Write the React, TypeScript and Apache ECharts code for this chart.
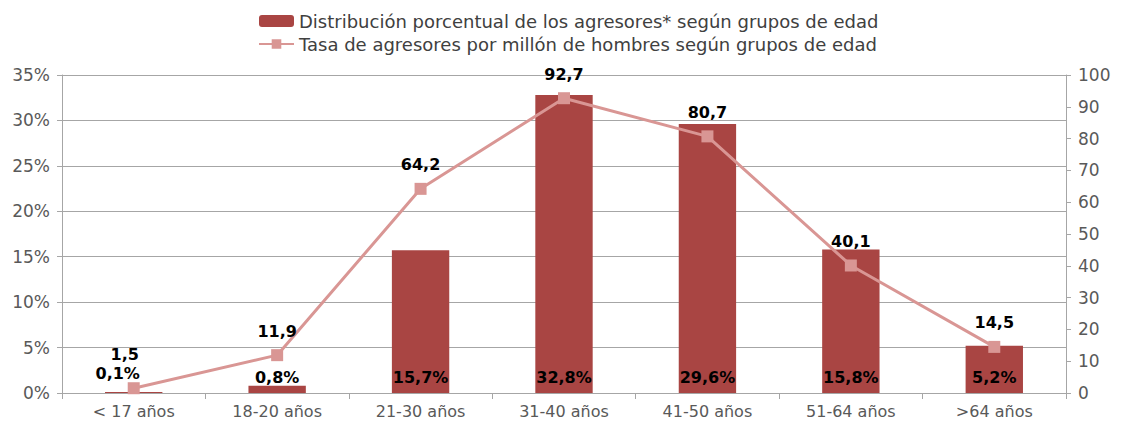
import React, { useEffect, useRef } from "react";
import * as echarts from "echarts";

const categories = ["< 17 años", "18-20 años", "21-30 años", "31-40 años", "41-50 años", "51-64 años", ">64 años"];
const distribucion = [0.1, 0.8, 15.7, 32.8, 29.6, 15.8, 5.2];
const tasa = [1.5, 11.9, 64.2, 92.7, 80.7, 40.1, 14.5];
const leftTicks = { min: 0, max: 35, interval: 5 };
const rightTicks = { min: 0, max: 100, interval: 10 };

const FONT = "DejaVu Sans";
const fmt = (v: number) => v.toFixed(1).replace(".", ",");

export default function App() {
  const ref = useRef<HTMLDivElement>(null);
  useEffect(() => {
    const chart = echarts.init(ref.current!, null, { renderer: "svg" });
    chart.setOption({
      animation: false,
      textStyle: { fontFamily: FONT },
      legend: {
        orient: "vertical",
        left: 253,
        top: 7,
        itemWidth: 35,
        itemHeight: 12,
        itemGap: 5,
        textStyle: { fontFamily: FONT, fontSize: 18, color: "#404040" },
        data: [
          "Distribución porcentual de los agresores* según grupos de edad",
          "Tasa de agresores por millón de hombres según grupos de edad",
        ],
      },
      grid: { left: 62, right: 55, top: 75, bottom: 34 },
      xAxis: {
        type: "category",
        data: categories,
        axisLine: { lineStyle: { color: "#a6a6a6" } },
        axisTick: { show: true, length: 6, lineStyle: { color: "#a6a6a6" } },
        axisLabel: { fontFamily: FONT, fontSize: 16, color: "#595959", margin: 10 },
      },
      yAxis: [
        {
          type: "value",
          ...leftTicks,
          axisLine: { show: true, lineStyle: { color: "#a6a6a6" } },
          axisTick: { show: true, length: 5, lineStyle: { color: "#a6a6a6" } },
          axisLabel: { fontFamily: FONT, fontSize: 17, color: "#595959", formatter: "{value}%", margin: 12 },
          splitLine: { lineStyle: { color: "#a6a6a6" } },
        },
        {
          type: "value",
          ...rightTicks,
          position: "right",
          axisLine: { show: true, lineStyle: { color: "#a6a6a6" } },
          axisTick: { show: true, length: 5, lineStyle: { color: "#a6a6a6" } },
          axisLabel: { fontFamily: FONT, fontSize: 17, color: "#595959", margin: 12 },
          splitLine: { show: false },
        },
      ],
      series: [
        {
          name: "Distribución porcentual de los agresores* según grupos de edad",
          type: "bar",
          data: distribucion.map((v, i) =>
            i === 0 ? { value: v, label: { offset: [-16, -4] } } : v
          ),
          barWidth: "40%",
          itemStyle: { color: "#A94543" },
          label: {
            show: true,
            position: "insideBottom",
            distance: 8,
            fontFamily: FONT,
            fontSize: 16,
            fontWeight: "bold",
            color: "#000",
            formatter: (p: any) => fmt(p.value) + "%",
          },
        },
        {
          name: "Tasa de agresores por millón de hombres según grupos de edad",
          type: "line",
          yAxisIndex: 1,
          data: tasa.map((v, i) =>
            i === 0 ? { value: v, label: { offset: [-9, -10] } } : v
          ),
          symbol: "rect",
          symbolSize: 12,
          lineStyle: { color: "#D99694", width: 3 },
          itemStyle: { color: "#D99694" },
          label: {
            show: true,
            position: "top",
            distance: 10,
            fontFamily: FONT,
            fontSize: 16,
            fontWeight: "bold",
            color: "#000",
            formatter: (p: any) => fmt(p.value),
          },
        },
      ],
    });
    return () => chart.dispose();
  }, []);
  return <div ref={ref} style={{ position: "absolute", left: 0, top: 0, width: 1121, height: 427 }} />;
}
